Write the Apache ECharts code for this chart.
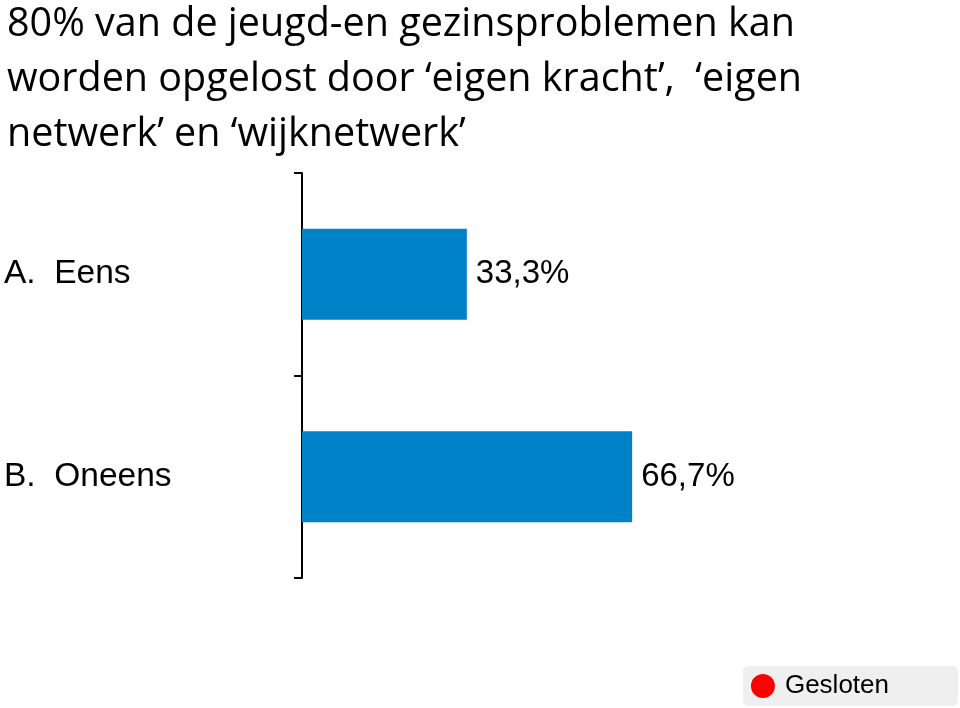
<!DOCTYPE html>
<html>
<head>
<meta charset="utf-8">
<script src="https://cdn.jsdelivr.net/npm/echarts@6/dist/echarts.min.js"></script>
<style>html,body{margin:0;padding:0;background:#fff}#c{width:960px;height:708px}</style>
</head>
<body>
<div id="c"></div>
<script>
const titleLines = ["80% van de jeugd-en gezinsproblemen kan", "worden opgelost door \u2018eigen kracht\u2019,  \u2018eigen", "netwerk\u2019 en \u2018wijknetwerk\u2019"];
const categories = ["A.  Eens", "B.  Oneens"];
const values = [33.3, 66.7];
const seriesName = "Gesloten";

const chart = echarts.init(document.getElementById('c'));
chart.setOption({
  animation: false,
  backgroundColor: '#fff',
  title: {
    text: titleLines.join('\n'),
    left: 2, top: -8,
    textStyle: { fontFamily: 'Open Sans', fontSize: 39.5, fontWeight: 'normal', color: '#000', lineHeight: 55 }
  },
  legend: {
    right: 2, bottom: 2,
    padding: [7, 69, 7, 8],
    backgroundColor: '#efefef',
    borderRadius: 6,
    itemWidth: 24, itemHeight: 24, itemGap: 10,
    selectedMode: false,
    textStyle: { fontFamily: 'Liberation Sans', fontSize: 26, color: '#000', padding: [2, 0, 0, 5] },
    data: [{ name: seriesName, icon: 'circle', itemStyle: { color: '#ff0000' } }]
  },
  grid: { left: 302, right: 163, top: 173, bottom: 130, containLabel: false },
  xAxis: { type: 'value', min: 0, max: 100, show: false },
  yAxis: {
    type: 'category', inverse: true, data: categories,
    axisLine: { show: true, lineStyle: { color: '#000', width: 2 } },
    axisTick: { show: true, length: 8, lineStyle: { color: '#000', width: 2 } },
    axisLabel: { align: 'left', margin: 298, fontFamily: 'Liberation Sans', fontSize: 33.5, color: '#000' },
    splitLine: { show: false }
  },
  series: [{
    name: seriesName, type: 'bar', data: values, barWidth: '45%',
    itemStyle: { color: '#0082c8' },
    label: { show: true, position: 'right', distance: 9, fontFamily: 'Liberation Sans', fontSize: 33, color: '#000',
      formatter: p => p.value.toFixed(1).replace('.', ',') + '%' }
  }]
});
</script>
</body>
</html>
